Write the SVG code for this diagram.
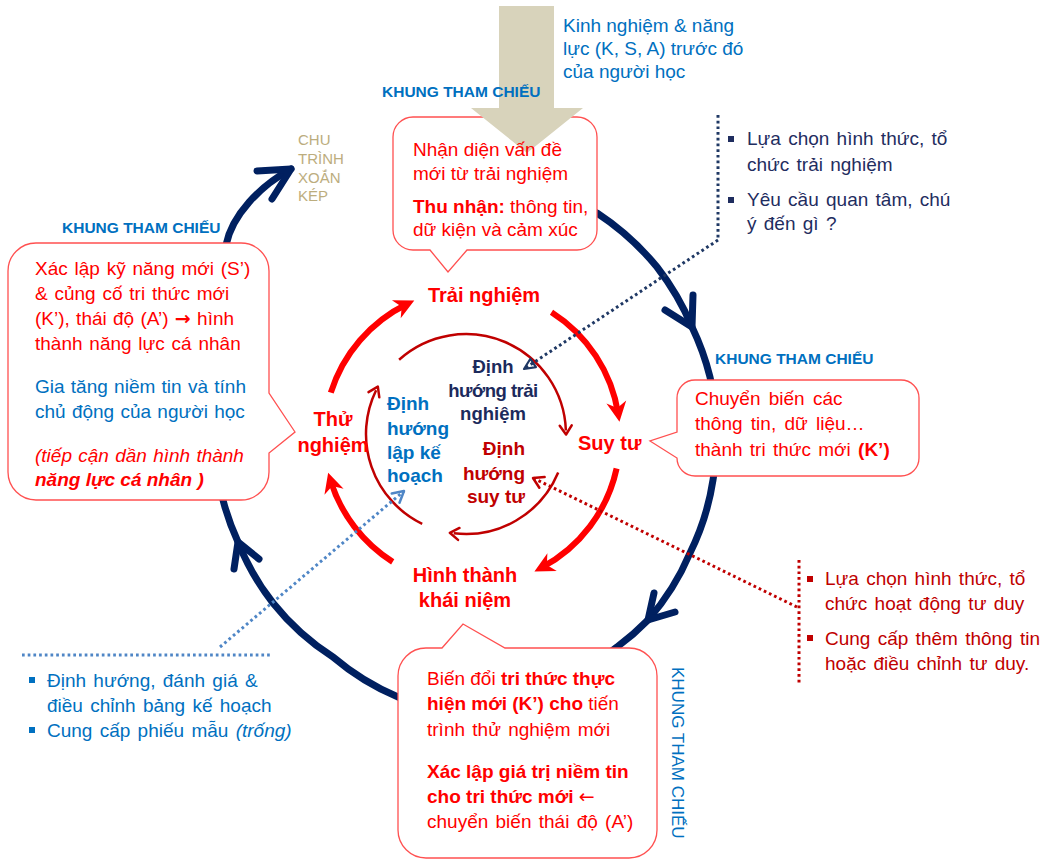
<svg xmlns="http://www.w3.org/2000/svg" width="1046" height="861" viewBox="0 0 1046 861">
<style>
text{font-family:"Liberation Sans",Arial,sans-serif;}
.ct{font-size:19px;fill:#ff0000;}
.b{font-weight:bold;}
.arr{font-family:"DejaVu Sans",sans-serif;}
.kh{font-size:15.5px;font-weight:bold;fill:#0070c0;}
.box{fill:#ffffff;stroke:#ff5050;stroke-width:1.3;}
.spiral{fill:none;stroke:#002060;stroke-width:7;stroke-linecap:round;stroke-linejoin:round;}
.red{fill:none;stroke:#ff0000;stroke-width:6;}
.inner{fill:none;stroke:#c00000;stroke-width:2.5;}
.dot{fill:none;stroke-width:3;stroke-dasharray:2.7 3;}
.lbl{font-size:20px;font-weight:bold;fill:#ff0000;}
.bul{font-size:19px;word-spacing:2px;}
</style>
<defs>
<marker id="ahRed" markerUnits="userSpaceOnUse" markerWidth="30" markerHeight="30" refX="-8" refY="0" orient="auto" style="overflow:visible"><path d="M-20,-10 L0,0 L-20,10 L-14,0 Z" fill="#ff0000"/></marker>
<marker id="ahInner" markerUnits="userSpaceOnUse" markerWidth="20" markerHeight="20" refX="-4" refY="0" orient="auto" style="overflow:visible"><path d="M-9,-6 L0,0 L-9,6" fill="none" stroke="#c00000" stroke-width="2.5" stroke-linecap="round" stroke-linejoin="round"/></marker>
<marker id="ahNavyDot" markerUnits="userSpaceOnUse" markerWidth="20" markerHeight="20" refX="0" refY="0" orient="auto" style="overflow:visible"><path d="M0,0 L-11,-5 L-11,5 Z" fill="none" stroke="#1f3864" stroke-width="2.2" stroke-linejoin="round"/></marker>
<marker id="ahRedDot" markerUnits="userSpaceOnUse" markerWidth="20" markerHeight="20" refX="0" refY="0" orient="auto" style="overflow:visible"><path d="M-10,-6 L0,0 L-10,6" fill="none" stroke="#c00000" stroke-width="2.5" stroke-linecap="round" stroke-linejoin="round"/></marker>
<marker id="ahBlueDot" markerUnits="userSpaceOnUse" markerWidth="20" markerHeight="20" refX="0" refY="0" orient="auto" style="overflow:visible"><path d="M-11,-6 L0,0 L-11,6" fill="none" stroke="#4f86c6" stroke-width="2.5" stroke-linecap="round" stroke-linejoin="round"/></marker>
</defs>
<rect width="1046" height="861" fill="#ffffff"/>

<g id="connectors">
<path class="spiral" d="M540,190 A272,272 0 0 1 597,213 A268,268 0 0 1 657,267 A262,262 0 0 1 692,327 A258,258 0 0 1 710,377 A252,252 0 0 1 713,480 A250,250 0 0 1 690,553 A250,250 0 0 1 648,620 A250,250 0 0 1 617,647 A252,252 0 0 1 398,697 A250,250 0 0 1 333,657 A246,246 0 0 1 273,603 A245,245 0 0 1 238,542 A246,246 0 0 1 223,500 C214,430 214,320 226,245 C232,215 260,186 291,169"/>
<path class="spiral" d="M693,295 L692,327 L665,310"/>
<path class="spiral" d="M654,593 L648,620 L675,612"/>
<path class="spiral" d="M234,569 L238,542 L259,559"/>
<path class="spiral" d="M257,171 L291,169 L272,199"/>

<path class="red" marker-end="url(#ahRed)" d="M330.8,392.7 A148,148 0 0 1 407.1,304"/>
<path class="red" marker-end="url(#ahRed)" d="M551.5,312.2 A148,148 0 0 1 618.2,413.9"/>
<path class="red" marker-end="url(#ahRed)" d="M616.6,468.5 A148,148 0 0 1 541.5,567.7"/>
<path class="red" marker-end="url(#ahRed)" d="M392.7,561.9 A148,148 0 0 1 330.5,480.3"/>

<path class="inner" marker-end="url(#ahInner)" d="M399.1,359.7 A100,100 0 0 1 565.9,430.5"/>
<path class="inner" marker-end="url(#ahInner)" d="M558.2,472.6 A100,100 0 0 1 453.8,533.3"/>
<path class="inner" marker-end="url(#ahInner)" d="M422.2,523.9 A100,100 0 0 1 376.1,390.2"/>

<path class="dot" stroke="#1f3864" d="M718,115 L718,240"/>
<path class="dot" stroke="#1f3864" marker-end="url(#ahNavyDot)" d="M718,240 L524,369"/>
<path class="dot" stroke="#c00000" d="M799,560 L799,683"/>
<path class="dot" stroke="#c00000" marker-end="url(#ahRedDot)" d="M797,607 L533,478"/>
<path class="dot" stroke="#4f86c6" d="M22,655 L270,655"/>
<path class="dot" stroke="#4f86c6" marker-end="url(#ahBlueDot)" d="M220,647 L404,491"/>
</g>

<g id="input-text">
<text x="563" y="32" font-size="19" fill="#0070c0">Kinh nghiệm &amp; năng</text>
<text x="563" y="55" font-size="19" fill="#0070c0">lực (K, S, A) trước đó</text>
<text x="563" y="78" font-size="19" fill="#0070c0">của người học</text>
</g>

<g id="callout-top">
<path class="box" d="M413,117 H577 A20,20 0 0 1 597,137 V230 A20,20 0 0 1 577,250 H467 L448,272 L430,250 H413 A20,20 0 0 1 393,230 V137 A20,20 0 0 1 413,117 Z"/>
<polygon id="input-arrow" points="499,6 554,6 554,108 583,108 527,153 471,108 499,108" fill="#d8d3bb"/>
<text class="kh" x="382" y="97">KHUNG THAM CHIẾU</text>
<text class="ct" x="413" y="156">Nhận diện vấn đề</text>
<text class="ct" x="413" y="180">mới từ trải nghiệm</text>
<text class="ct" x="413" y="213"><tspan class="b">Thu nhận:</tspan> thông tin,</text>
<text class="ct" x="413" y="236">dữ kiện và cảm xúc</text>
</g>

<g id="label-chu-trinh">
<text x="298" y="145" font-size="15" fill="#bcad7e">CHU</text>
<text x="298" y="164" font-size="15" fill="#bcad7e">TRÌNH</text>
<text x="298" y="183" font-size="15" fill="#bcad7e">XOẮN</text>
<text x="298" y="201" font-size="15" fill="#bcad7e">KÉP</text>
</g>

<g id="callout-left">
<text class="kh" x="62" y="233">KHUNG THAM CHIẾU</text>
<path class="box" d="M36,243 H241 A28,28 0 0 1 269,271 V393 L295,432 L269,453 V472 A28,28 0 0 1 241,500 H36 A28,28 0 0 1 8,472 V271 A28,28 0 0 1 36,243 Z"/>
<text class="ct" x="35" y="275" word-spacing="1.5">Xác lập kỹ năng mới (S’)</text>
<text class="ct" x="35" y="300" word-spacing="1.5">&amp; củng cố tri thức mới</text>
<text class="ct" x="35" y="325" word-spacing="1">(K’), thái độ (A’) <tspan class="arr b">→</tspan> hình</text>
<text class="ct" x="35" y="350" word-spacing="1.5">thành năng lực cá nhân</text>
<text class="ct" x="35" y="393" style="fill:#0070c0" word-spacing="1">Gia tăng niềm tin và tính</text>
<text class="ct" x="35" y="418" style="fill:#0070c0" word-spacing="1">chủ động của người học</text>
<text class="ct" x="35" y="462" font-style="italic" word-spacing="1">(tiếp cận dần hình thành</text>
<text class="ct b" x="35" y="486" font-style="italic">năng lực cá nhân )</text>
</g>

<g id="bullets-top-right">
<rect x="728" y="136" width="6" height="6" fill="#1f2d5f"/>
<rect x="728" y="197" width="6" height="6" fill="#1f2d5f"/>
<text class="bul" x="747" y="145" fill="#1f2d5f">Lựa chọn hình thức, tổ</text>
<text class="bul" x="747" y="171" fill="#1f2d5f">chức trải nghiệm</text>
<text class="bul" x="747" y="206" fill="#1f2d5f">Yêu cầu quan tâm, chú</text>
<text class="bul" x="747" y="230" fill="#1f2d5f">ý đến gì ?</text>
</g>

<g id="callout-right">
<text class="kh" x="715" y="364">KHUNG THAM CHIẾU</text>
<path class="box" d="M695,380 H901 A18,18 0 0 1 919,398 V458 A18,18 0 0 1 901,476 H695 A18,18 0 0 1 677,458 L650,441 L677,432 V398 A18,18 0 0 1 695,380 Z"/>
<text class="ct" x="695" y="405" word-spacing="3">Chuyển biến các</text>
<text class="ct" x="695" y="430" word-spacing="3">thông tin, dữ liệu…</text>
<text class="ct" x="695" y="456" word-spacing="2">thành tri thức mới <tspan class="b">(K’)</tspan></text>
</g>

<g id="bullets-bottom-right">
<rect x="807" y="576" width="6" height="6" fill="#c00000"/>
<rect x="807" y="635" width="6" height="6" fill="#c00000"/>
<text class="bul" x="825" y="585" fill="#c00000">Lựa chọn hình thức, tổ</text>
<text class="bul" x="825" y="610" fill="#c00000">chức hoạt động tư duy</text>
<text class="bul" x="825" y="645" fill="#c00000">Cung cấp thêm thông tin</text>
<text class="bul" x="825" y="670" fill="#c00000">hoặc điều chỉnh tư duy.</text>
</g>

<g id="callout-bottom">
<path class="box" d="M426,648 H442 L463,624 L505,648 H629 A28,28 0 0 1 657,676 V830 A28,28 0 0 1 629,858 H426 A28,28 0 0 1 398,830 V676 A28,28 0 0 1 426,648 Z"/>
<text class="ct" x="427" y="685">Biến đổi <tspan class="b">tri thức thực</tspan></text>
<text class="ct" x="427" y="710"><tspan class="b">hiện mới (K’) cho</tspan> tiến</text>
<text class="ct" x="427" y="736" word-spacing="2">trình thử nghiệm mới</text>
<text class="ct b" x="427" y="778">Xác lập giá trị niềm tin</text>
<text class="ct" x="427" y="803"><tspan class="b">cho tri thức mới</tspan> <tspan class="arr">←</tspan></text>
<text class="ct" x="427" y="828" word-spacing="2">chuyển biến thái độ (A’)</text>
<text transform="translate(672,667) rotate(90)" font-size="17" fill="#0070c0">KHUNG THAM CHIẾU</text>
</g>

<g id="bullets-bottom-left">
<rect x="29" y="677" width="6" height="6" fill="#0070c0"/>
<rect x="29" y="727" width="6" height="6" fill="#0070c0"/>
<text class="bul" x="47" y="687" fill="#0070c0">Định hướng, đánh giá &amp;</text>
<text class="bul" x="47" y="712" fill="#0070c0">điều chỉnh bảng kế hoạch</text>
<text class="bul" x="47" y="737" fill="#0070c0">Cung cấp phiếu mẫu <tspan font-style="italic">(trống)</tspan></text>
</g>

<g id="node-trai-nghiem"><text class="lbl" x="484" y="302" text-anchor="middle">Trải nghiệm</text></g>
<g id="node-suy-tu"><text class="lbl" x="578" y="450">Suy tư</text></g>
<g id="node-hinh-thanh"><text class="lbl" x="465" y="582" text-anchor="middle">Hình thành</text><text class="lbl" x="465" y="607" text-anchor="middle">khái niệm</text></g>
<g id="node-thu-nghiem"><text class="lbl" x="333" y="426" text-anchor="middle">Thử</text><text class="lbl" x="333" y="452" text-anchor="middle">nghiệm</text></g>

<g id="inner-trai-nghiem">
<text x="493" y="373" text-anchor="middle" font-size="18.5" font-weight="bold" fill="#1c2a5c">Định</text>
<text x="493" y="397" text-anchor="middle" font-size="18.5" font-weight="bold" fill="#1c2a5c" letter-spacing="-0.5">hướng trải</text>
<text x="493" y="420" text-anchor="middle" font-size="18.5" font-weight="bold" fill="#1c2a5c">nghiệm</text>
</g>
<g id="inner-lap-ke-hoach">
<text x="387" y="410" font-size="19" font-weight="bold" fill="#0070c0">Định</text>
<text x="387" y="435" font-size="19" font-weight="bold" fill="#0070c0">hướng</text>
<text x="387" y="459" font-size="19" font-weight="bold" fill="#0070c0">lập kế</text>
<text x="387" y="482" font-size="19" font-weight="bold" fill="#0070c0">hoạch</text>
</g>
<g id="inner-suy-tu">
<text x="525" y="455" text-anchor="end" font-size="19" font-weight="bold" fill="#c00000">Định</text>
<text x="525" y="480" text-anchor="end" font-size="19" font-weight="bold" fill="#c00000">hướng</text>
<text x="525" y="503" text-anchor="end" font-size="19" font-weight="bold" fill="#c00000">suy tư</text>
</g>
</svg>
